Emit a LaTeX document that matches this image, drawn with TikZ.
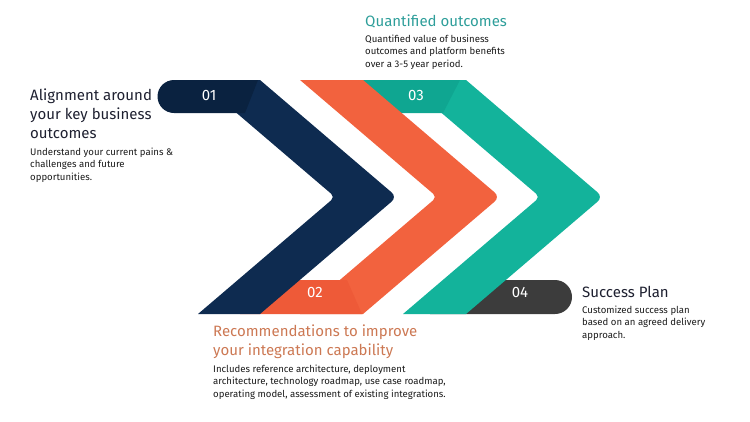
\documentclass[tikz,border=0pt]{standalone}
\usepackage{fontspec}
\setmainfont{Fira Sans}
\definecolor{navyband}{HTML}{0E2B50}
\definecolor{navytab}{HTML}{0A2240}
\definecolor{orband}{HTML}{F2623E}
\definecolor{ortab}{HTML}{EE5A38}
\definecolor{tlband}{HTML}{13B39B}
\definecolor{tltab}{HTML}{0FA691}
\definecolor{greytab}{HTML}{3C3C3C}
\definecolor{headtxt}{HTML}{1E2030}
\definecolor{bodytxt}{HTML}{1A1A1A}
\definecolor{tealtxt}{HTML}{2E9E9A}
\definecolor{orangetxt}{HTML}{CC7853}
\tikzset{
  heading/.style={anchor=base west, inner sep=0pt, align=left, font=\fontsize{15}{19}\selectfont, text=headtxt},
  bodytext/.style={anchor=base west, inner sep=0pt, align=left, font=\fontsize{9.6}{12.2}\selectfont, text=bodytxt},
  tablabel/.style={inner sep=0pt, text=white, font=\fontsize{15}{16}\selectfont},
}
\begin{document}
\begin{tikzpicture}[x=1pt,y=-1pt]
\useasboundingbox (0,0) rectangle (750,421);
% tab 04
\fill[greytab] (470,280) -- (555,280) arc[start angle=-90,end angle=90,radius=17] -- (430,314) -- cycle;
% teal band
\fill[tlband] (403,80) -- (466,80) [rounded corners=7] -- (603,197) [sharp corners] -- (466,314) -- (403,314) [rounded corners=5] -- (540,197) [sharp corners] -- cycle;
% tab 03
\fill[tltab] (350,80) -- (460,80) -- (443,113) -- (350,113) -- cycle;
% orange band
\fill[orband] (300,80) -- (363,80) [rounded corners=7] -- (500,197) [sharp corners] -- (363,314) -- (300,314) [rounded corners=5] -- (437,197) [sharp corners] -- cycle;
% tab 02
\fill[ortab] (280,280) -- (347,280) -- (362,314) -- (240,314) -- cycle;
% navy band
\fill[navyband] (198,80) -- (260,80) [rounded corners=7] -- (397,197) [sharp corners] -- (260,314) -- (198,314) [rounded corners=5] -- (335,197) [sharp corners] -- cycle;
% tab 01
\fill[navytab] (258,80) -- (174,80) arc[start angle=-90,end angle=-270,radius=16.5] -- (245,113) -- cycle;

\node[tablabel] (l01) at (209,95) {01};
\node[tablabel] (l02) at (315,292) {02};
\node[tablabel] (l03) at (416,95) {03};
\node[tablabel] (l04) at (520,292) {04};

\node[heading] (h1) at (30,138) {Alignment around\\your key business\\outcomes};
\node[bodytext] (b1) at (30,180) {Understand your current pains \&\\challenges and future\\opportunities.};

\node[heading, text=tealtxt] (h3) at (365,26) {Quantified outcomes};
\node[bodytext] (b3) at (365,67) {Quantified value of business\\outcomes and platform benefits\\over a 3-5 year period.};

\node[heading, text=orangetxt] (h2) at (213,355) {Recommendations to improve\\your integration capability};
\node[bodytext] (b2) at (213,397) {Includes reference architecture, deployment\\architecture, technology roadmap, use case roadmap,\\operating model, assessment of existing integrations.};

\node[heading] (h4) at (582,297) {Success Plan};
\node[bodytext] (b4) at (582,338) {Customized success plan\\based on an agreed delivery\\approach.};
\end{tikzpicture}
\end{document}
